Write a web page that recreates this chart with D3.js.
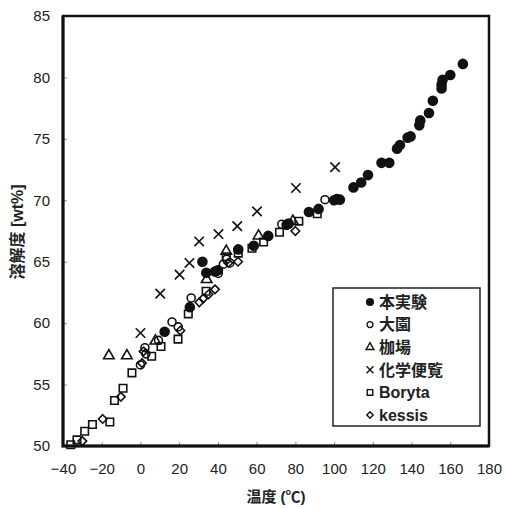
<!DOCTYPE html>
<html>
<head>
<meta charset="utf-8">
<script src="https://cdn.jsdelivr.net/npm/d3@7"></script>
<style>
  body { margin: 0; background: #fff; }
  svg text { font-family: "Liberation Sans", Arial, "Noto Sans CJK JP", sans-serif; }
</style>
</head>
<body>
<svg id="chart" width="508" height="509"></svg>
<script>
// data: [temperature degC, solubility wt%]
const honJikken = [
  [12.5, 59.3], [25.5, 61.3], [32, 65.0], [34, 64.1], [38.5, 64.2], [40, 64.3],
  [50.5, 66.0], [58.5, 66.3], [66, 67.1], [75.5, 68.0], [76.5, 68.1], [87, 69.05],
  [92, 69.3], [100, 70.0], [101.5, 70.1], [103, 70.05], [110, 71.05], [114, 71.45],
  [117.5, 72.05], [124.5, 73.05], [128.5, 73.05], [132.5, 74.2], [134, 74.5],
  [138, 75.1], [139.5, 75.2], [144, 76.1], [144.5, 76.5], [149, 77.1], [151, 78.1],
  [155.5, 79.1], [155.5, 79.4], [156, 79.8], [160, 80.2], [166.5, 81.1]
];
const ozono = [
  [0, 56.6], [2.8, 57.5], [2.3, 58.0], [9.3, 58.6], [16.3, 60.1], [19.5, 59.7],
  [26.2, 62.05], [40.2, 64.05], [42.8, 64.8], [44.5, 65.2], [46.2, 64.9],
  [73, 68.05], [95.3, 70.05]
];
const kaba = [
  [-16.3, 57.35], [-7, 57.35], [7.7, 58.55], [34.2, 63.55], [44.3, 65.85],
  [61, 67.1], [78.7, 68.3]
];
const kagakuBinran = [
  [0, 59.2], [10.2, 62.4], [20.2, 63.95], [25.3, 64.9], [30.3, 66.65],
  [40.3, 67.25], [50, 67.9], [60.2, 69.1], [80.3, 71.0], [100.5, 72.7]
];
const boryta = [
  [-36, 50.1], [-32.8, 50.5], [-28.8, 51.2], [-24.8, 51.75], [-15.8, 51.95],
  [-13.4, 53.7], [-9, 54.7], [-4.4, 55.95], [5.8, 57.3], [10.6, 58.1],
  [19.4, 58.7], [24.7, 60.75], [33.9, 62.6], [44.3, 65.4], [50.5, 65.7],
  [57.6, 66.1], [63.6, 66.6], [71.8, 67.4], [81.8, 68.3], [91.3, 68.9]
];
const kessis = [
  [-30, 50.4], [-19.5, 52.2], [-10.1, 54.0], [0.8, 56.75], [1.6, 57.7],
  [20.6, 59.4], [30.4, 61.7], [32.4, 62.0], [35.2, 62.35], [38.5, 62.75],
  [45.4, 64.9], [50.4, 65.0], [80, 67.5]
];

const seriesNames = ["本実験", "大園", "枷場", "化学便覧", "Boryta", "kessis"];
const xTicks = [-40, -20, 0, 20, 40, 60, 80, 100, 120, 140, 160, 180];
const yTicks = [50, 55, 60, 65, 70, 75, 80, 85];

const series = [
  { name: seriesNames[0], data: honJikken, symbol: d3.symbolCircle, fill: "#111", size: 64 },
  { name: seriesNames[1], data: ozono, symbol: d3.symbolCircle, fill: "none", size: 50 },
  { name: seriesNames[2], data: kaba, symbol: d3.symbolTriangle, fill: "none", size: 48 },
  { name: seriesNames[3], data: kagakuBinran, symbol: d3.symbolX, fill: "none", size: 60 },
  { name: seriesNames[4], data: boryta, symbol: d3.symbolSquare, fill: "none", size: 56 },
  { name: seriesNames[5], data: kessis, symbol: d3.symbolDiamond2, fill: "none", size: 46 }
];

const svg = d3.select("#chart");
const plotLeft = 63, plotRight = 489, plotTop = 16, plotBottom = 446;

const x = d3.scaleLinear().domain([-40, 180]).range([plotLeft, plotRight]);
const y = d3.scaleLinear().domain([50, 85]).range([plotBottom, plotTop]);

// axes, ticks pointing inward
const xAxis = svg.append("g")
  .attr("transform", "translate(0," + plotBottom + ")")
  .call(d3.axisBottom(x).tickValues(xTicks).tickSize(-4).tickPadding(17).tickFormat(d => d < 0 ? "\u2212" + (-d) : d));
const yAxis = svg.append("g")
  .attr("transform", "translate(" + plotLeft + ",0)")
  .call(d3.axisLeft(y).tickValues(yTicks).tickSize(-4).tickPadding(13));

[xAxis, yAxis].forEach(g => {
  g.select(".domain").remove();
  g.selectAll(".tick line").attr("stroke", "#888");
  g.selectAll(".tick text")
    .attr("fill", "#222")
    .style("font-size", "15px");
});

// plot frame (left and bottom edges a bit heavier, as in the scan)
svg.append("rect")
  .attr("x", plotLeft).attr("y", plotTop)
  .attr("width", plotRight - plotLeft).attr("height", plotBottom - plotTop)
  .attr("fill", "none").attr("stroke", "#111").attr("stroke-width", 2.5);
svg.append("path")
  .attr("d", "M" + plotLeft + "," + plotTop + "V" + plotBottom + "H" + plotRight)
  .attr("fill", "none").attr("stroke", "#111").attr("stroke-width", 3);

// points
series.forEach(s => {
  svg.append("g").selectAll("path")
    .data(s.data)
    .join("path")
    .attr("transform", d => "translate(" + x(d[0]) + "," + y(d[1]) + ")")
    .attr("d", d3.symbol().type(s.symbol).size(s.size))
    .attr("fill", s.fill)
    .attr("stroke", "#111")
    .attr("stroke-width", 1.6);
});

// axis titles
svg.append("text")
  .attr("x", 276).attr("y", 502)
  .attr("text-anchor", "middle")
  .style("font-size", "15px").style("font-weight", "bold")
  .attr("fill", "#222")
  .text("温度 (℃)");

svg.append("text")
  .attr("transform", "translate(23,232)rotate(-90)")
  .attr("text-anchor", "middle")
  .style("font-size", "16px").style("font-weight", "bold")
  .attr("fill", "#222")
  .text("溶解度 [wt%]");

// legend
const legend = svg.append("g");
legend.append("rect")
  .attr("x", 333).attr("y", 288).attr("width", 147).attr("height", 138)
  .attr("fill", "#fff").attr("stroke", "#222").attr("stroke-width", 1.5);

series.forEach((s, i) => {
  const ly = 302 + i * 22.6;
  legend.append("path")
    .attr("transform", "translate(370," + ly + ")")
    .attr("d", d3.symbol().type(s.symbol).size(s.size * 0.55))
    .attr("fill", s.fill)
    .attr("stroke", "#111")
    .attr("stroke-width", 1.4);
  legend.append("text")
    .attr("x", 379).attr("y", ly).attr("dy", "0.36em")
    .style("font-size", "16px").style("font-weight", "bold")
    .attr("fill", "#222")
    .text(s.name);
});
</script>
</body>
</html>
